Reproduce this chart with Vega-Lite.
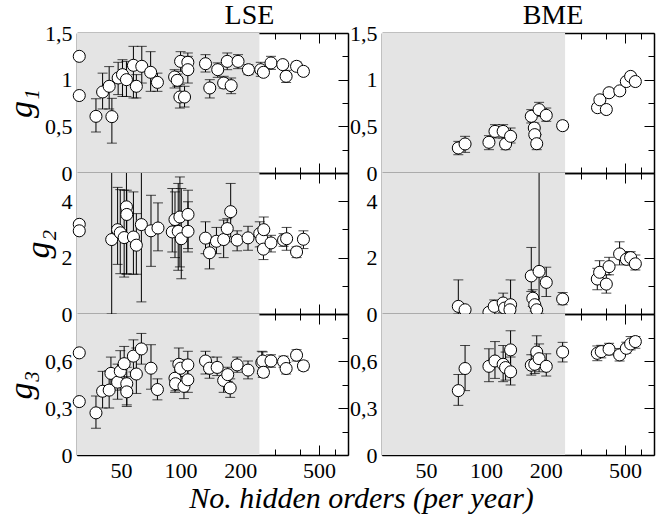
{
"$schema": "https://vega.github.io/schema/vega-lite/v6.json",
"padding": {"left": 4, "top": 2, "right": 5, "bottom": 5},
"background": "white",
"title": {"text": "No. hidden orders (per year)", "orient": "bottom", "anchor": "middle", "font": "Liberation Serif, DejaVu Serif, serif", "fontStyle": "italic", "fontWeight": "normal", "fontSize": 30, "color": "black", "offset": 3, "dx": 32},
"columns": 2,
"spacing": {"row": 0, "column": 34},
"bounds": "flush",
"concat": [
{"width": 271, "height": 140, "data": {"name": "lse1"},
 "title": {"text": "LSE", "font": "Liberation Serif, DejaVu Serif, serif", "fontSize": 28, "fontWeight": "normal", "color": "black", "offset": -8, "dx": 37},
 "resolve": {"axis": {"x": "independent", "y": "independent"}},
 "layer": [
  {"data": {"values": [{}]}, "mark": {"type": "rect", "color": "#e4e4e4"}, "encoding": {"x": {"datum": 30, "type": "quantitative", "scale": {"type": "log", "domain": [30, 700], "nice": false}, "axis": null}, "x2": {"datum": 250}}},
  {"mark": {"type": "rule", "color": "black", "strokeWidth": 1, "clip": true}, "encoding": {
    "x": {"field": "n", "type": "quantitative", "scale": {"type": "log", "domain": [30, 700], "nice": false}, "axis": {"orient": "bottom", "values": [50, 100, 200, 500], "tickSize": -10, "labels": false, "title": null}},
    "y": {"field": "lo", "type": "quantitative", "scale": {"domain": [0, 1.5], "nice": false, "zero": false}, "axis": {"orient": "left", "values": [0, 0.5, 1, 1.5], "tickSize": -10, "labelPadding": 15, "format": "~g", "labelExpr": "replace(datum.label, '.', ',')", "title": "g₁"}},
    "y2": {"field": "hi"}}},
  {"mark": {"type": "tick", "orient": "horizontal", "size": 10, "thickness": 1, "color": "black", "clip": true}, "encoding": {
    "x": {"field": "n", "type": "quantitative", "axis": {"orient": "bottom", "values": [40, 60, 70, 80, 90, 300, 400, 600], "tickSize": -6, "labels": false, "domain": false, "title": null}},
    "y": {"field": "hi", "type": "quantitative", "axis": {"orient": "left", "values": [0.25, 0.75, 1.25], "tickSize": -6, "labels": false, "domain": false, "title": null}}}},
  {"mark": {"type": "tick", "orient": "horizontal", "size": 10, "thickness": 1, "color": "black", "clip": true}, "encoding": {
    "x": {"field": "n", "type": "quantitative", "axis": {"orient": "top", "values": [50, 100, 200, 500], "tickSize": -10, "labels": false, "title": null}},
    "y": {"field": "lo", "type": "quantitative", "axis": {"orient": "right", "values": [0, 0.5, 1, 1.5], "tickSize": -10, "labels": false, "title": null}}}},
  {"mark": {"type": "circle", "size": 145, "fill": "white", "stroke": "black", "strokeWidth": 1, "opacity": 1}, "encoding": {
    "x": {"field": "n", "type": "quantitative", "axis": {"orient": "top", "values": [40, 60, 70, 80, 90, 300, 400, 600], "tickSize": -6, "labels": false, "domain": false, "title": null}},
    "y": {"field": "v", "type": "quantitative", "axis": {"orient": "right", "values": [0.25, 0.75, 1.25], "tickSize": -6, "labels": false, "domain": false, "title": null}}}}
 ]},
{"width": 272, "height": 140, "data": {"name": "bme1"},
 "title": {"text": "BME", "font": "Liberation Serif, DejaVu Serif, serif", "fontSize": 28, "fontWeight": "normal", "color": "black", "offset": -8, "dx": 35},
 "resolve": {"axis": {"x": "independent", "y": "independent"}},
 "layer": [
  {"data": {"values": [{}]}, "mark": {"type": "rect", "color": "#e4e4e4"}, "encoding": {"x": {"datum": 30, "type": "quantitative", "scale": {"type": "log", "domain": [30, 700], "nice": false}, "axis": null}, "x2": {"datum": 250}}},
  {"mark": {"type": "rule", "color": "black", "strokeWidth": 1, "clip": true}, "encoding": {
    "x": {"field": "n", "type": "quantitative", "scale": {"type": "log", "domain": [30, 700], "nice": false}, "axis": {"orient": "bottom", "values": [50, 100, 200, 500], "tickSize": -10, "labels": false, "title": null}},
    "y": {"field": "lo", "type": "quantitative", "scale": {"domain": [0, 1.5], "nice": false, "zero": false}, "axis": {"orient": "left", "values": [0, 0.5, 1, 1.5], "tickSize": -10, "labelPadding": 15, "format": "~g", "labelExpr": "replace(datum.label, '.', ',')", "title": null}},
    "y2": {"field": "hi"}}},
  {"mark": {"type": "tick", "orient": "horizontal", "size": 10, "thickness": 1, "color": "black", "clip": true}, "encoding": {
    "x": {"field": "n", "type": "quantitative", "axis": {"orient": "bottom", "values": [40, 60, 70, 80, 90, 300, 400, 600], "tickSize": -6, "labels": false, "domain": false, "title": null}},
    "y": {"field": "hi", "type": "quantitative", "axis": {"orient": "left", "values": [0.25, 0.75, 1.25], "tickSize": -6, "labels": false, "domain": false, "title": null}}}},
  {"mark": {"type": "tick", "orient": "horizontal", "size": 10, "thickness": 1, "color": "black", "clip": true}, "encoding": {
    "x": {"field": "n", "type": "quantitative", "axis": {"orient": "top", "values": [50, 100, 200, 500], "tickSize": -10, "labels": false, "title": null}},
    "y": {"field": "lo", "type": "quantitative", "axis": {"orient": "right", "values": [0, 0.5, 1, 1.5], "tickSize": -10, "labels": false, "title": null}}}},
  {"mark": {"type": "circle", "size": 145, "fill": "white", "stroke": "black", "strokeWidth": 1, "opacity": 1}, "encoding": {
    "x": {"field": "n", "type": "quantitative", "axis": {"orient": "top", "values": [40, 60, 70, 80, 90, 300, 400, 600], "tickSize": -6, "labels": false, "domain": false, "title": null}},
    "y": {"field": "v", "type": "quantitative", "axis": {"orient": "right", "values": [0.25, 0.75, 1.25], "tickSize": -6, "labels": false, "domain": false, "title": null}}}}
 ]},
{"width": 271, "height": 141, "data": {"name": "lse2"},
 "resolve": {"axis": {"x": "independent", "y": "independent"}},
 "layer": [
  {"data": {"values": [{}]}, "mark": {"type": "rect", "color": "#e4e4e4"}, "encoding": {"x": {"datum": 30, "type": "quantitative", "scale": {"type": "log", "domain": [30, 700], "nice": false}, "axis": null}, "x2": {"datum": 250}}},
  {"mark": {"type": "rule", "color": "black", "strokeWidth": 1, "clip": true}, "encoding": {
    "x": {"field": "n", "type": "quantitative", "scale": {"type": "log", "domain": [30, 700], "nice": false}, "axis": {"orient": "bottom", "values": [50, 100, 200, 500], "tickSize": -10, "labels": false, "title": null}},
    "y": {"field": "lo", "type": "quantitative", "scale": {"domain": [0, 5], "nice": false, "zero": false}, "axis": {"orient": "left", "values": [0, 2, 4], "tickSize": -10, "labelPadding": 15, "format": "~g", "title": "g₂"}},
    "y2": {"field": "hi"}}},
  {"mark": {"type": "tick", "orient": "horizontal", "size": 10, "thickness": 1, "color": "black", "clip": true}, "encoding": {
    "x": {"field": "n", "type": "quantitative", "axis": {"orient": "bottom", "values": [40, 60, 70, 80, 90, 300, 400, 600], "tickSize": -6, "labels": false, "domain": false, "title": null}},
    "y": {"field": "hi", "type": "quantitative", "axis": {"orient": "left", "values": [1, 3], "tickSize": -6, "labels": false, "domain": false, "title": null}}}},
  {"mark": {"type": "tick", "orient": "horizontal", "size": 10, "thickness": 1, "color": "black", "clip": true}, "encoding": {
    "x": {"field": "n", "type": "quantitative", "axis": {"orient": "top", "values": [50, 100, 200, 500], "tickSize": -10, "labels": false, "title": null}},
    "y": {"field": "lo", "type": "quantitative", "axis": {"orient": "right", "values": [0, 2, 4], "tickSize": -10, "labels": false, "title": null}}}},
  {"mark": {"type": "circle", "size": 145, "fill": "white", "stroke": "black", "strokeWidth": 1, "opacity": 1}, "encoding": {
    "x": {"field": "n", "type": "quantitative", "axis": {"orient": "top", "values": [40, 60, 70, 80, 90, 300, 400, 600], "tickSize": -6, "labels": false, "domain": false, "title": null}},
    "y": {"field": "v", "type": "quantitative", "axis": {"orient": "right", "values": [1, 3], "tickSize": -6, "labels": false, "domain": false, "title": null}}}}
 ]},
{"width": 272, "height": 141, "data": {"name": "bme2"},
 "resolve": {"axis": {"x": "independent", "y": "independent"}},
 "layer": [
  {"data": {"values": [{}]}, "mark": {"type": "rect", "color": "#e4e4e4"}, "encoding": {"x": {"datum": 30, "type": "quantitative", "scale": {"type": "log", "domain": [30, 700], "nice": false}, "axis": null}, "x2": {"datum": 250}}},
  {"mark": {"type": "rule", "color": "black", "strokeWidth": 1, "clip": true}, "encoding": {
    "x": {"field": "n", "type": "quantitative", "scale": {"type": "log", "domain": [30, 700], "nice": false}, "axis": {"orient": "bottom", "values": [50, 100, 200, 500], "tickSize": -10, "labels": false, "title": null}},
    "y": {"field": "lo", "type": "quantitative", "scale": {"domain": [0, 5], "nice": false, "zero": false}, "axis": {"orient": "left", "values": [0, 2, 4], "tickSize": -10, "labelPadding": 15, "format": "~g", "title": null}},
    "y2": {"field": "hi"}}},
  {"mark": {"type": "tick", "orient": "horizontal", "size": 10, "thickness": 1, "color": "black", "clip": true}, "encoding": {
    "x": {"field": "n", "type": "quantitative", "axis": {"orient": "bottom", "values": [40, 60, 70, 80, 90, 300, 400, 600], "tickSize": -6, "labels": false, "domain": false, "title": null}},
    "y": {"field": "hi", "type": "quantitative", "axis": {"orient": "left", "values": [1, 3], "tickSize": -6, "labels": false, "domain": false, "title": null}}}},
  {"mark": {"type": "tick", "orient": "horizontal", "size": 10, "thickness": 1, "color": "black", "clip": true}, "encoding": {
    "x": {"field": "n", "type": "quantitative", "axis": {"orient": "top", "values": [50, 100, 200, 500], "tickSize": -10, "labels": false, "title": null}},
    "y": {"field": "lo", "type": "quantitative", "axis": {"orient": "right", "values": [0, 2, 4], "tickSize": -10, "labels": false, "title": null}}}},
  {"mark": {"type": "circle", "size": 145, "fill": "white", "stroke": "black", "strokeWidth": 1, "opacity": 1}, "encoding": {
    "x": {"field": "n", "type": "quantitative", "axis": {"orient": "top", "values": [40, 60, 70, 80, 90, 300, 400, 600], "tickSize": -6, "labels": false, "domain": false, "title": null}},
    "y": {"field": "v", "type": "quantitative", "axis": {"orient": "right", "values": [1, 3], "tickSize": -6, "labels": false, "domain": false, "title": null}}}}
 ]},
{"width": 271, "height": 141, "data": {"name": "lse3"},
 "resolve": {"axis": {"x": "independent", "y": "independent"}},
 "layer": [
  {"data": {"values": [{}]}, "mark": {"type": "rect", "color": "#e4e4e4"}, "encoding": {"x": {"datum": 30, "type": "quantitative", "scale": {"type": "log", "domain": [30, 700], "nice": false}, "axis": null}, "x2": {"datum": 250}}},
  {"mark": {"type": "rule", "color": "black", "strokeWidth": 1, "clip": true}, "encoding": {
    "x": {"field": "n", "type": "quantitative", "scale": {"type": "log", "domain": [30, 700], "nice": false}, "axis": {"orient": "bottom", "values": [50, 100, 200, 500], "tickSize": -10, "labels": true, "labelPadding": 15, "format": "d", "title": null}},
    "y": {"field": "lo", "type": "quantitative", "scale": {"domain": [0, 0.9], "nice": false, "zero": false}, "axis": {"orient": "left", "values": [0, 0.3, 0.6], "tickSize": -10, "labelPadding": 15, "format": "~g", "labelExpr": "replace(datum.label, '.', ',')", "title": "g₃"}},
    "y2": {"field": "hi"}}},
  {"mark": {"type": "tick", "orient": "horizontal", "size": 10, "thickness": 1, "color": "black", "clip": true}, "encoding": {
    "x": {"field": "n", "type": "quantitative", "axis": {"orient": "bottom", "values": [40, 60, 70, 80, 90, 300, 400, 600], "tickSize": -6, "labels": false, "domain": false, "title": null}},
    "y": {"field": "hi", "type": "quantitative", "axis": {"orient": "left", "values": [0.15, 0.45, 0.75], "tickSize": -6, "labels": false, "domain": false, "title": null}}}},
  {"mark": {"type": "tick", "orient": "horizontal", "size": 10, "thickness": 1, "color": "black", "clip": true}, "encoding": {
    "x": {"field": "n", "type": "quantitative", "axis": {"orient": "top", "values": [50, 100, 200, 500], "tickSize": -10, "labels": false, "title": null}},
    "y": {"field": "lo", "type": "quantitative", "axis": {"orient": "right", "values": [0, 0.3, 0.6], "tickSize": -10, "labels": false, "title": null}}}},
  {"mark": {"type": "circle", "size": 145, "fill": "white", "stroke": "black", "strokeWidth": 1, "opacity": 1}, "encoding": {
    "x": {"field": "n", "type": "quantitative", "axis": {"orient": "top", "values": [40, 60, 70, 80, 90, 300, 400, 600], "tickSize": -6, "labels": false, "domain": false, "title": null}},
    "y": {"field": "v", "type": "quantitative", "axis": {"orient": "right", "values": [0.15, 0.45, 0.75], "tickSize": -6, "labels": false, "domain": false, "title": null}}}}
 ]},
{"width": 272, "height": 141, "data": {"name": "bme3"},
 "resolve": {"axis": {"x": "independent", "y": "independent"}},
 "layer": [
  {"data": {"values": [{}]}, "mark": {"type": "rect", "color": "#e4e4e4"}, "encoding": {"x": {"datum": 30, "type": "quantitative", "scale": {"type": "log", "domain": [30, 700], "nice": false}, "axis": null}, "x2": {"datum": 250}}},
  {"mark": {"type": "rule", "color": "black", "strokeWidth": 1, "clip": true}, "encoding": {
    "x": {"field": "n", "type": "quantitative", "scale": {"type": "log", "domain": [30, 700], "nice": false}, "axis": {"orient": "bottom", "values": [50, 100, 200, 500], "tickSize": -10, "labels": true, "labelPadding": 15, "format": "d", "title": null}},
    "y": {"field": "lo", "type": "quantitative", "scale": {"domain": [0, 0.9], "nice": false, "zero": false}, "axis": {"orient": "left", "values": [0, 0.3, 0.6], "tickSize": -10, "labelPadding": 15, "format": "~g", "labelExpr": "replace(datum.label, '.', ',')", "title": null}},
    "y2": {"field": "hi"}}},
  {"mark": {"type": "tick", "orient": "horizontal", "size": 10, "thickness": 1, "color": "black", "clip": true}, "encoding": {
    "x": {"field": "n", "type": "quantitative", "axis": {"orient": "bottom", "values": [40, 60, 70, 80, 90, 300, 400, 600], "tickSize": -6, "labels": false, "domain": false, "title": null}},
    "y": {"field": "hi", "type": "quantitative", "axis": {"orient": "left", "values": [0.15, 0.45, 0.75], "tickSize": -6, "labels": false, "domain": false, "title": null}}}},
  {"mark": {"type": "tick", "orient": "horizontal", "size": 10, "thickness": 1, "color": "black", "clip": true}, "encoding": {
    "x": {"field": "n", "type": "quantitative", "axis": {"orient": "top", "values": [50, 100, 200, 500], "tickSize": -10, "labels": false, "title": null}},
    "y": {"field": "lo", "type": "quantitative", "axis": {"orient": "right", "values": [0, 0.3, 0.6], "tickSize": -10, "labels": false, "title": null}}}},
  {"mark": {"type": "circle", "size": 145, "fill": "white", "stroke": "black", "strokeWidth": 1, "opacity": 1}, "encoding": {
    "x": {"field": "n", "type": "quantitative", "axis": {"orient": "top", "values": [40, 60, 70, 80, 90, 300, 400, 600], "tickSize": -6, "labels": false, "domain": false, "title": null}},
    "y": {"field": "v", "type": "quantitative", "axis": {"orient": "right", "values": [0.15, 0.45, 0.75], "tickSize": -6, "labels": false, "domain": false, "title": null}}}}
 ]}
],
"datasets": {
"lse1": [
{"n":30.8,"v":1.25,"lo":1.22,"hi":1.28},{"n":30.8,"v":0.83,"lo":0.8,"hi":0.86},{"n":37.4,"v":0.607,"lo":0.439,"hi":0.796},{"n":40.4,"v":0.868,"lo":0.686,"hi":1.07},{"n":43.6,"v":0.929,"lo":0.686,"hi":1.14},{"n":45,"v":0.604,"lo":0.32,"hi":0.8},{"n":48.4,"v":1.018,"lo":0.84,"hi":1.186},{"n":50.9,"v":1.054,"lo":0.82,"hi":1.214},{"n":53.3,"v":1.0,"lo":0.82,"hi":1.196},{"n":57.8,"v":1.154,"lo":0.804,"hi":1.357},{"n":63.7,"v":1.143,"lo":0.964,"hi":1.357},{"n":59.8,"v":0.929,"lo":0.804,"hi":1.054},{"n":70.6,"v":1.079,"lo":0.875,"hi":1.3},{"n":76.4,"v":0.971,"lo":0.875,"hi":1.07},{"n":93.3,"v":1.029,"lo":0.911,"hi":1.107},{"n":96.2,"v":0.993,"lo":0.93,"hi":1.06},{"n":100,"v":1.196,"lo":1.089,"hi":1.3},{"n":99.2,"v":0.814,"lo":0.696,"hi":0.946},{"n":104.7,"v":0.814,"lo":0.707,"hi":0.929},{"n":108.8,"v":1.186,"lo":1.07,"hi":1.286},{"n":108.8,"v":1.107,"lo":0.964,"hi":1.25},{"n":133.6,"v":1.171,"lo":1.082,"hi":1.268},{"n":140.4,"v":0.911,"lo":0.804,"hi":1.0},{"n":154,"v":1.107,"lo":1.025,"hi":1.18},{"n":165,"v":0.964,"lo":0.91,"hi":1.036},{"n":180,"v":0.936,"lo":0.85,"hi":1.018},{"n":172,"v":1.196,"lo":1.107,"hi":1.286},{"n":195,"v":1.196,"lo":1.118,"hi":1.268},{"n":220,"v":1.107,"lo":1.054,"hi":1.16},{"n":254,"v":1.107,"lo":1.036,"hi":1.186},{"n":262,"v":1.079,"lo":1.04,"hi":1.12},{"n":286,"v":1.179,"lo":1.11,"hi":1.25},{"n":328,"v":1.161,"lo":1.12,"hi":1.2},{"n":341,"v":1.036,"lo":0.97,"hi":1.1},{"n":385,"v":1.143,"lo":1.1,"hi":1.19},{"n":417,"v":1.089,"lo":1.05,"hi":1.13}
],
"bme1": [
{"n":72.6,"v":0.268,"lo":0.196,"hi":0.339},{"n":78.5,"v":0.311,"lo":0.221,"hi":0.393},{"n":103.5,"v":0.329,"lo":0.25,"hi":0.4},{"n":111,"v":0.446,"lo":0.375,"hi":0.518},{"n":122,"v":0.446,"lo":0.375,"hi":0.518},{"n":125.5,"v":0.311,"lo":0.25,"hi":0.375},{"n":133,"v":0.393,"lo":0.321,"hi":0.482},{"n":169,"v":0.607,"lo":0.536,"hi":0.679},{"n":175,"v":0.482,"lo":0.411,"hi":0.536},{"n":176,"v":0.411,"lo":0.37,"hi":0.45},{"n":180,"v":0.314,"lo":0.25,"hi":0.411},{"n":185,"v":0.679,"lo":0.607,"hi":0.757},{"n":201,"v":0.618,"lo":0.554,"hi":0.696},{"n":243,"v":0.507,"lo":0.464,"hi":0.554},{"n":364,"v":0.7,"lo":0.66,"hi":0.74},{"n":374,"v":0.784,"lo":0.74,"hi":0.82},{"n":403,"v":0.68,"lo":0.64,"hi":0.72},{"n":416,"v":0.86,"lo":0.82,"hi":0.9},{"n":471,"v":0.88,"lo":0.85,"hi":0.91},{"n":508,"v":0.98,"lo":0.95,"hi":1.01},{"n":534,"v":1.035,"lo":1.0,"hi":1.07},{"n":564,"v":0.98,"lo":0.95,"hi":1.01}
],
"lse2": [
{"n":30.8,"v":3.18,"lo":3.1,"hi":3.26},{"n":30.8,"v":2.95,"lo":2.87,"hi":3.03},{"n":44.9,"v":2.64,"lo":0,"hi":5.5},{"n":48.1,"v":2.99,"lo":1.76,"hi":4.49},{"n":49.6,"v":2.88,"lo":1.43,"hi":4.41},{"n":51.9,"v":2.71,"lo":1.31,"hi":4.39},{"n":53.3,"v":3.8,"lo":1.41,"hi":5.5},{"n":53.5,"v":3.53,"lo":1.43,"hi":4.39},{"n":57.8,"v":2.73,"lo":1.41,"hi":4.33},{"n":59.8,"v":2.44,"lo":1.41,"hi":3.56},{"n":63.4,"v":3.17,"lo":0.43,"hi":5.5},{"n":70.9,"v":2.95,"lo":1.69,"hi":4.21},{"n":76.9,"v":3.05,"lo":2.24,"hi":3.94},{"n":90.8,"v":2.91,"lo":2.2,"hi":4.45},{"n":93.7,"v":3.35,"lo":2.0,"hi":4.33},{"n":97.3,"v":2.93,"lo":1.55,"hi":4.63},{"n":100.8,"v":2.67,"lo":1.25,"hi":4.45},{"n":99.2,"v":3.44,"lo":1.67,"hi":4.86},{"n":109,"v":3.53,"lo":2.2,"hi":4.39},{"n":109,"v":2.93,"lo":2.32,"hi":3.98},{"n":133.6,"v":2.69,"lo":2.14,"hi":3.27},{"n":140,"v":2.17,"lo":1.6,"hi":2.62},{"n":151.7,"v":2.58,"lo":2.14,"hi":3.07},{"n":165,"v":2.64,"lo":2.0,"hi":3.33},{"n":172,"v":3.03,"lo":2.56,"hi":3.38},{"n":179,"v":3.63,"lo":2.73,"hi":4.63},{"n":193,"v":2.62,"lo":2.24,"hi":2.95},{"n":219,"v":2.7,"lo":2.26,"hi":3.11},{"n":251,"v":2.85,"lo":2.38,"hi":3.27},{"n":257,"v":2.67,"lo":2.4,"hi":2.95},{"n":262,"v":2.3,"lo":1.93,"hi":2.73},{"n":263,"v":2.99,"lo":2.6,"hi":3.44},{"n":286,"v":2.52,"lo":2.2,"hi":2.79},{"n":331,"v":2.62,"lo":2.4,"hi":2.85},{"n":343,"v":2.67,"lo":2.26,"hi":3.07},{"n":385,"v":2.2,"lo":2.0,"hi":2.38},{"n":417,"v":2.65,"lo":2.32,"hi":2.95}
],
"bme2": [
{"n":72.6,"v":0.27,"lo":0,"hi":1.21},{"n":78.5,"v":0.15,"lo":0.05,"hi":0.25},{"n":103.5,"v":0.06,"lo":0,"hi":0.12},{"n":110,"v":0.27,"lo":0,"hi":0.5},{"n":122,"v":0.39,"lo":0.05,"hi":0.74},{"n":124,"v":0.21,"lo":0,"hi":0.4},{"n":133,"v":0.33,"lo":0,"hi":1.21},{"n":132,"v":0.15,"lo":0,"hi":0.3},{"n":169,"v":1.35,"lo":0.8,"hi":2.36},{"n":172,"v":0.56,"lo":0.27,"hi":0.86},{"n":176,"v":0.33,"lo":0.1,"hi":0.55},{"n":180,"v":0.15,"lo":0,"hi":0.3},{"n":185,"v":1.51,"lo":0,"hi":5.5},{"n":201,"v":1.12,"lo":0.62,"hi":1.66},{"n":243,"v":0.53,"lo":0.33,"hi":0.76},{"n":363,"v":1.24,"lo":0.86,"hi":1.62},{"n":373,"v":1.48,"lo":1.1,"hi":1.89},{"n":403,"v":1.06,"lo":0.74,"hi":1.39},{"n":416,"v":1.68,"lo":1.39,"hi":2.01},{"n":470,"v":2.13,"lo":1.74,"hi":2.56},{"n":508,"v":1.94,"lo":1.78,"hi":2.21},{"n":534,"v":2.0,"lo":1.74,"hi":2.21},{"n":564,"v":1.78,"lo":1.56,"hi":2.09}
],
"lse3": [
{"n":30.8,"v":0.652,"lo":0.63,"hi":0.67},{"n":30.8,"v":0.341,"lo":0.32,"hi":0.36},{"n":37.4,"v":0.269,"lo":0.171,"hi":0.376},{"n":40.4,"v":0.407,"lo":0.3,"hi":0.534},{"n":43.6,"v":0.414,"lo":0.3,"hi":0.538},{"n":44.5,"v":0.521,"lo":0.414,"hi":0.625},{"n":48.1,"v":0.465,"lo":0.356,"hi":0.58},{"n":49.6,"v":0.534,"lo":0.414,"hi":0.666},{"n":51.9,"v":0.583,"lo":0.47,"hi":0.693},{"n":53.5,"v":0.455,"lo":0.32,"hi":0.56},{"n":53.5,"v":0.403,"lo":0.31,"hi":0.5},{"n":57.8,"v":0.631,"lo":0.53,"hi":0.735},{"n":59.8,"v":0.517,"lo":0.393,"hi":0.683},{"n":63.4,"v":0.677,"lo":0.58,"hi":0.776},{"n":70.9,"v":0.554,"lo":0.42,"hi":0.704},{"n":76.4,"v":0.418,"lo":0.352,"hi":0.486},{"n":93.7,"v":0.49,"lo":0.4,"hi":0.6},{"n":94.3,"v":0.455,"lo":0.41,"hi":0.5},{"n":98,"v":0.579,"lo":0.5,"hi":0.683},{"n":100,"v":0.554,"lo":0.5,"hi":0.61},{"n":104,"v":0.438,"lo":0.36,"hi":0.5},{"n":108.8,"v":0.575,"lo":0.496,"hi":0.662},{"n":108.8,"v":0.48,"lo":0.4,"hi":0.56},{"n":133.6,"v":0.6,"lo":0.517,"hi":0.662},{"n":140,"v":0.554,"lo":0.49,"hi":0.625},{"n":153,"v":0.559,"lo":0.507,"hi":0.625},{"n":165,"v":0.476,"lo":0.4,"hi":0.54},{"n":173,"v":0.513,"lo":0.47,"hi":0.56},{"n":178,"v":0.428,"lo":0.368,"hi":0.486},{"n":193,"v":0.575,"lo":0.528,"hi":0.625},{"n":219,"v":0.542,"lo":0.486,"hi":0.6},{"n":257,"v":0.59,"lo":0.52,"hi":0.662},{"n":260,"v":0.6,"lo":0.496,"hi":0.658},{"n":262,"v":0.528,"lo":0.5,"hi":0.56},{"n":286,"v":0.6,"lo":0.56,"hi":0.64},{"n":331,"v":0.596,"lo":0.56,"hi":0.631},{"n":341,"v":0.552,"lo":0.517,"hi":0.59},{"n":385,"v":0.637,"lo":0.6,"hi":0.672},{"n":417,"v":0.569,"lo":0.54,"hi":0.6}
],
"bme3": [
{"n":72.6,"v":0.411,"lo":0.317,"hi":0.514},{"n":78.5,"v":0.552,"lo":0.411,"hi":0.699},{"n":103.5,"v":0.566,"lo":0.468,"hi":0.678},{"n":111,"v":0.6,"lo":0.489,"hi":0.724},{"n":122,"v":0.579,"lo":0.468,"hi":0.699},{"n":125.5,"v":0.558,"lo":0.478,"hi":0.657},{"n":133,"v":0.671,"lo":0.55,"hi":0.793},{"n":133,"v":0.531,"lo":0.447,"hi":0.625},{"n":169,"v":0.573,"lo":0.51,"hi":0.64},{"n":176,"v":0.579,"lo":0.52,"hi":0.64},{"n":180,"v":0.657,"lo":0.56,"hi":0.761},{"n":185,"v":0.615,"lo":0.531,"hi":0.709},{"n":201,"v":0.566,"lo":0.504,"hi":0.646},{"n":243,"v":0.657,"lo":0.594,"hi":0.719},{"n":363,"v":0.649,"lo":0.602,"hi":0.696},{"n":380,"v":0.66,"lo":0.62,"hi":0.7},{"n":416,"v":0.675,"lo":0.639,"hi":0.713},{"n":470,"v":0.639,"lo":0.6,"hi":0.68},{"n":508,"v":0.681,"lo":0.65,"hi":0.72},{"n":534,"v":0.709,"lo":0.671,"hi":0.756},{"n":564,"v":0.724,"lo":0.681,"hi":0.756}
]
},
"config": {
 "font": "Liberation Serif, DejaVu Serif, serif",
 "view": {"stroke": null},
 "axis": {"grid": false, "labelFont": "Liberation Serif, DejaVu Serif, serif", "labelFontSize": 22, "labelColor": "black", "tickColor": "black", "tickWidth": 1, "domainColor": "black", "domainWidth": 1.5, "zindex": 1, "labelOverlap": false, "labelFlush": false, "titleFont": "Liberation Serif, DejaVu Serif, serif", "titleFontStyle": "italic", "titleFontWeight": "normal", "titleFontSize": 34, "titleColor": "black", "titlePadding": 6}
}
}
